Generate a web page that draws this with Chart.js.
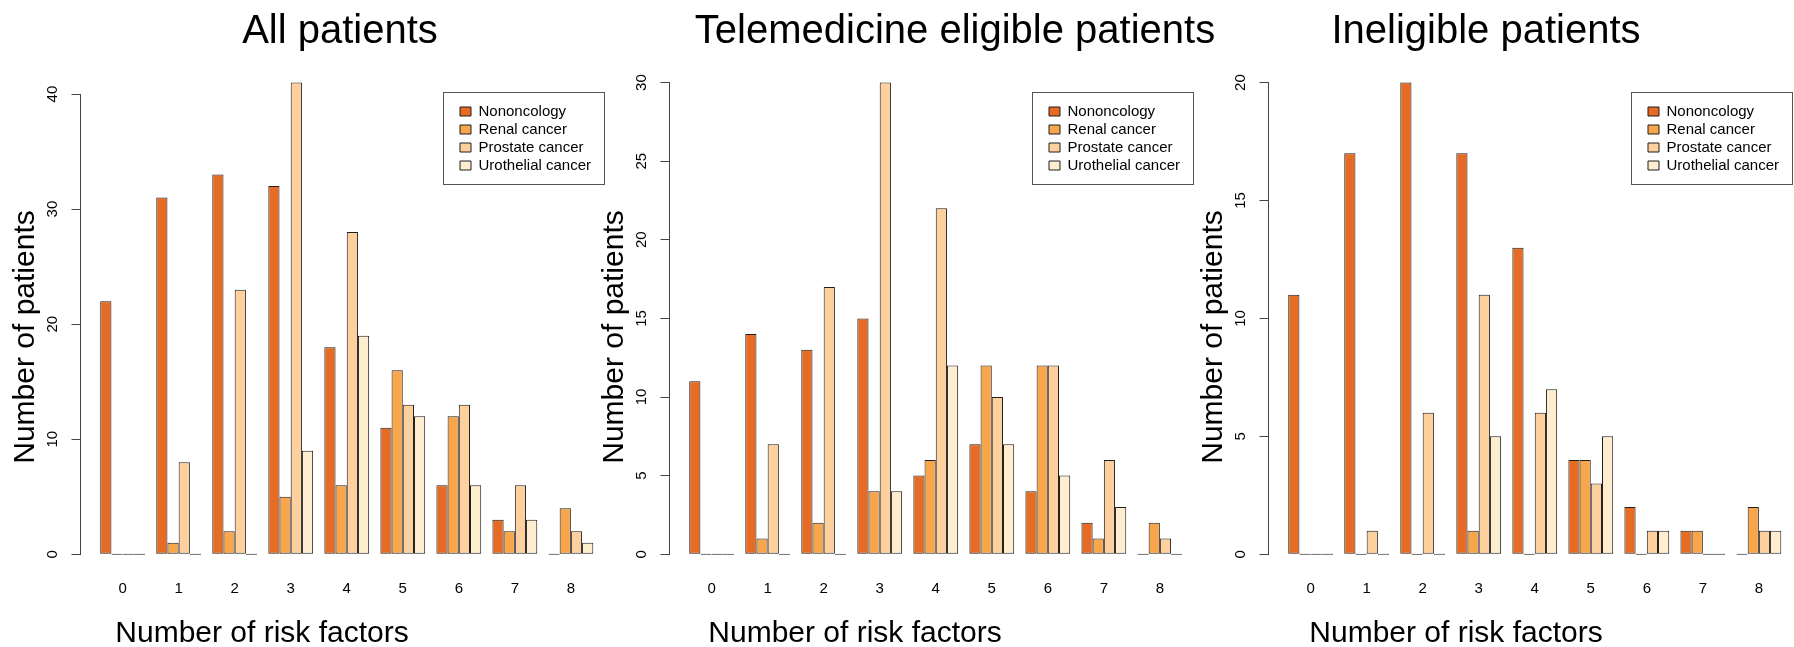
<!DOCTYPE html>
<html>
<head>
<meta charset="utf-8">
<script src="https://cdn.jsdelivr.net/npm/chart.js@4.4.1/dist/chart.umd.min.js"></script>
<style>
  html, body { margin: 0; padding: 0; background: #fff; }
  #wrap { position: relative; width: 1794px; height: 647px; overflow: hidden; background: #fff; }
  .panel { position: absolute; top: 0; width: 680px; height: 647px; }
</style>
</head>
<body>
<div id="wrap">
  <div class="panel" style="left:0px"><canvas id="allChart"></canvas></div>
  <div class="panel" style="left:589px"><canvas id="eligibleChart"></canvas></div>
  <div class="panel" style="left:1188px"><canvas id="ineligibleChart"></canvas></div>
</div>
<script>
// x categories: number of risk factors
const riskFactors = [0, 1, 2, 3, 4, 5, 6, 7, 8];
const groupNames = ['Nononcology', 'Renal cancer', 'Prostate cancer', 'Urothelial cancer'];
const groupColors = ['#e66b24', '#f8a64b', '#fdd09d', '#feedcf'];

// All patients
const allNononcology = [22, 31, 33, 32, 18, 11, 6, 3, 0];
const allRenal       = [0, 1, 2, 5, 6, 16, 12, 2, 4];
const allProstate    = [0, 8, 23, 41, 28, 13, 13, 6, 2];
const allUrothelial  = [0, 0, 0, 9, 19, 12, 6, 3, 1];

// Telemedicine eligible patients
const eligNononcology = [11, 14, 13, 15, 5, 7, 4, 2, 0];
const eligRenal       = [0, 1, 2, 4, 6, 12, 12, 1, 2];
const eligProstate    = [0, 7, 17, 30, 22, 10, 12, 6, 1];
const eligUrothelial  = [0, 0, 0, 4, 12, 7, 5, 3, 0];

// Ineligible patients
const inelNononcology = [11, 17, 20, 17, 13, 4, 2, 1, 0];
const inelRenal       = [0, 0, 0, 1, 0, 4, 0, 1, 2];
const inelProstate    = [0, 1, 6, 11, 6, 3, 1, 0, 1];
const inelUrothelial  = [0, 0, 0, 5, 7, 5, 1, 0, 1];

// y tick labels per panel
const yTicksAll = [0, 10, 20, 30, 40];
const yTicksEligible = [0, 5, 10, 15, 20, 25, 30];
const yTicksIneligible = [0, 5, 10, 15, 20];

const FONT = "'Liberation Sans', Arial, Helvetica, sans-serif";

// titles, short y axis line and legend frame (base R look)
const panelDecor = {
    id: 'panelDecor',
    beforeDraw(chart) {
        const area = chart.chartArea;
        const frameLeft = area.right - 9 - 161;
        chart.legend.left = frameLeft + 14;
        chart.legend.top = area.top + 28 + 9.5;
    },
    afterDraw(chart, args, opts) {
        const ctx = chart.ctx;
        const area = chart.chartArea;
        const yScale = chart.scales.y;
        const ticks = yScale.ticks;
        ctx.save();

        // y axis line from first to last tick only
        const ax = Math.round(area.left) - 0.5;
        ctx.strokeStyle = '#444';
        ctx.lineWidth = 1;
        ctx.beginPath();
        ctx.moveTo(ax, yScale.getPixelForValue(ticks[0].value));
        ctx.lineTo(ax, yScale.getPixelForValue(ticks[ticks.length - 1].value));
        ctx.stroke();

        // legend frame
        const frameLeft = Math.round(area.right - 9 - 161) + 0.5;
        const frameTop = Math.round(area.top + 28) + 0.5;
        ctx.strokeStyle = '#555';
        ctx.strokeRect(frameLeft, frameTop, 161, 92);

        ctx.fillStyle = '#000';
        // main title
        ctx.font = '40px ' + FONT;
        ctx.textAlign = 'center';
        ctx.textBaseline = 'alphabetic';
        ctx.fillText(opts.title, opts.titleX - opts.left, 43);

        // x axis title
        ctx.font = '30px ' + FONT;
        ctx.fillText('Number of risk factors', opts.xTitleX - opts.left, 641.5);

        // y axis title
        ctx.translate(area.left - 54.5, 337);
        ctx.rotate(-Math.PI / 2);
        ctx.textBaseline = 'middle';
        ctx.fillText('Number of patients', 0, 0);
        ctx.restore();
    }
};

function makeChart(canvasId, series, yTicks, deco) {
    const peak = Math.max(...series.flat());
    const lo = -0.01 * peak;
    const ext = 0.04 * (peak - lo);

    return new Chart(document.getElementById(canvasId), {
        type: 'bar',
        data: {
            labels: riskFactors,
            datasets: series.map((values, i) => ({
                label: groupNames[i],
                data: values,
                backgroundColor: groupColors[i],
                borderColor: '#1e1e1e',
                borderWidth: 1,
                borderSkipped: false,
                minBarLength: 1,
                categoryPercentage: 0.8,
                barPercentage: 1
            }))
        },
        options: {
            responsive: true,
            maintainAspectRatio: false,
            animation: false,
            layout: { padding: { top: 63.5, left: 0, right: 67, bottom: 0 } },
            scales: {
                x: {
                    type: 'linear',
                    offset: false,
                    min: -0.752,
                    max: 8.752,
                    afterBuildTicks: axis => { axis.ticks = riskFactors.map(v => ({ value: v })); },
                    afterFit: axis => { axis.height = 69; },
                    grid: { display: false, drawTicks: false, offset: false },
                    border: { display: false },
                    ticks: { color: '#000', font: { family: FONT, size: 15 }, padding: 1.5, maxRotation: 0 }
                },
                y: {
                    min: lo - ext,
                    max: peak + ext,
                    afterBuildTicks: axis => { axis.ticks = yTicks.map(v => ({ value: v })); },
                    afterFit: axis => { axis.width = 80.5; },
                    grid: { drawOnChartArea: false, tickLength: 9, color: '#444' },
                    border: { display: false },
                    ticks: {
                        color: '#000',
                        font: { family: FONT, size: 15 },
                        minRotation: 90,
                        maxRotation: 90,
                        crossAlign: 'center',
                        padding: 10
                    }
                }
            },
            plugins: {
                legend: {
                    position: 'chartArea',
                    align: 'start',
                    labels: {
                        color: '#000',
                        font: { family: FONT, size: 15 },
                        boxWidth: 11,
                        boxHeight: 9,
                        padding: 3
                    }
                },
                tooltip: { enabled: false },
                panelDecor: deco
            }
        },
        plugins: [panelDecor]
    });
}

makeChart('allChart',
    [allNononcology, allRenal, allProstate, allUrothelial],
    yTicksAll,
    { title: 'All patients', left: 0, titleX: 340, xTitleX: 262 });

makeChart('eligibleChart',
    [eligNononcology, eligRenal, eligProstate, eligUrothelial],
    yTicksEligible,
    { title: 'Telemedicine eligible patients', left: 589, titleX: 955, xTitleX: 855 });

makeChart('ineligibleChart',
    [inelNononcology, inelRenal, inelProstate, inelUrothelial],
    yTicksIneligible,
    { title: 'Ineligible patients', left: 1188, titleX: 1486, xTitleX: 1456 });
</script>
</body>
</html>
